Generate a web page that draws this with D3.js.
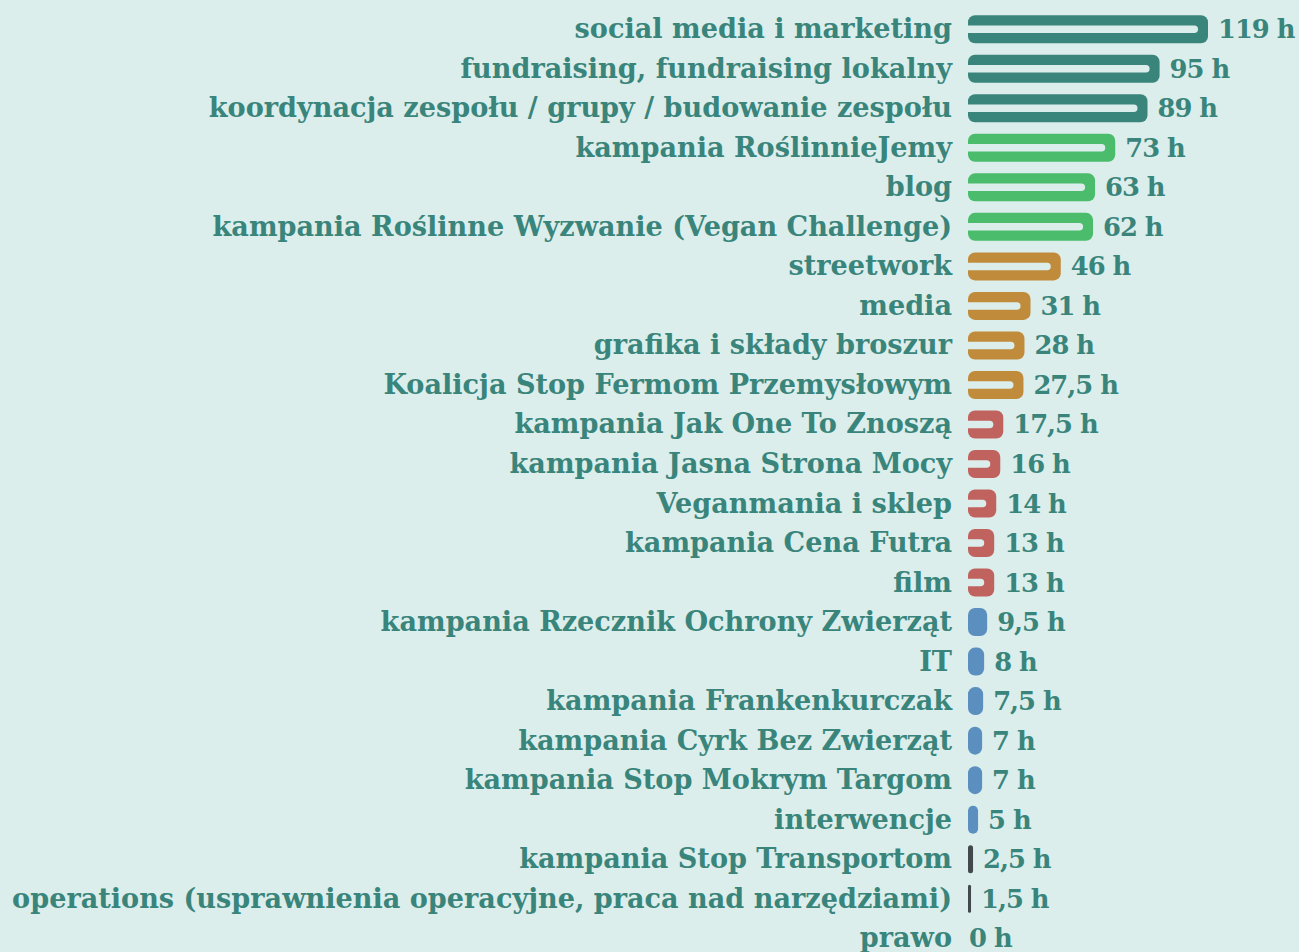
<!DOCTYPE html>
<html>
<head>
<meta charset="utf-8">
<script src="https://cdn.jsdelivr.net/npm/d3@7"></script>
<style>
  html, body { margin: 0; padding: 0; background: #dbeeec; }
  svg text { font-family: "DejaVu Serif", "Liberation Serif", serif; font-weight: bold; fill: #3a857b; }
</style>
</head>
<body>
<svg id="chart"></svg>
<script>
// categories, top to bottom
var categories = [
  'social media i marketing',
  'fundraising, fundraising lokalny',
  'koordynacja zespołu / grupy / budowanie zespołu',
  'kampania RoślinnieJemy',
  'blog',
  'kampania Roślinne Wyzwanie (Vegan Challenge)',
  'streetwork',
  'media',
  'grafika i składy broszur',
  'Koalicja Stop Fermom Przemysłowym',
  'kampania Jak One To Znoszą',
  'kampania Jasna Strona Mocy',
  'Veganmania i sklep',
  'kampania Cena Futra',
  'film',
  'kampania Rzecznik Ochrony Zwierząt',
  'IT',
  'kampania Frankenkurczak',
  'kampania Cyrk Bez Zwierząt',
  'kampania Stop Mokrym Targom',
  'interwencje',
  'kampania Stop Transportom',
  'operations (usprawnienia operacyjne, praca nad narzędziami)',
  'prawo'
]

// hours per category
var hours = [119, 95, 89, 73, 63, 62, 46, 31, 28, 27.5, 17.5, 16, 14, 13, 13, 9.5, 8, 7.5, 7, 7, 5, 2.5, 1.5, 0]

// colour group of each bar
var groups = ['a', 'a', 'a', 'b', 'b', 'b', 'c', 'c', 'c', 'c', 'd', 'd', 'd', 'd', 'd',
  'e', 'e', 'e', 'e', 'e', 'e', 'f', 'f', 'f']

var data = categories.map(function (c, i) {
  return { name: c, value: hours[i], group: groups[i] }
})

var width = 1299
var height = 952
var barLeft = 968
var barH = 28

var svg = d3.select('#chart')
  .attr('width', width)
  .attr('height', height)

var color = d3.scaleOrdinal()
  .domain(['a', 'b', 'c', 'd', 'e', 'f'])
  .range(['#3a857b', '#4bbc6c', '#c18b3c', '#c0635f', '#5b8fbf', '#41494d'])

var x = d3.scaleLinear()
  .domain([0, 119])
  .range([barLeft, 1208])

var y = d3.scaleBand()
  .domain(categories)
  .range([9.5, 958])

var fmt = function (v) { return String(v).replace('.', ',') + ' h' }

var row = svg.selectAll('g.row')
  .data(data)
  .enter().append('g')
    .attr('class', 'row')
    .attr('transform', function (d) { return 'translate(0,' + (y(d.name) + y.bandwidth() / 2) + ')' })

// bars
row.filter(function (d) { return d.value > 0 })
  .append('rect')
    .attr('x', barLeft)
    .attr('y', -barH / 2)
    .attr('width', function (d) { return x(d.value) - barLeft })
    .attr('height', barH)
    .attr('rx', function (d) { return Math.min(7, (x(d.value) - barLeft) / 2) })
    .attr('fill', function (d) { return color(d.group) })

// inner white stripe
row.filter(function (d) { return x(d.value) - barLeft > 22 })
  .append('path')
    .attr('d', function (d) {
      var end = x(d.value) - 10
      var r = 3.75
      return 'M' + barLeft + ',' + (-r) + 'H' + (end - r) +
        'A' + r + ',' + r + ' 0 0 1 ' + (end - r) + ',' + r +
        'H' + barLeft + 'Z'
    })
    .attr('fill', '#dbeeec')

// category labels
var labels = row.append('text')
  .attr('x', 952)
  .attr('y', 9)
  .attr('text-anchor', 'end')
  .style('font-size', '25px')
  .text(function (d) { return d.name })

// value labels
var values = row.append('text')
  .attr('x', function (d) { return d.value > 0 ? x(d.value) + 10 : barLeft + 1 })
  .attr('y', 9)
  .style('letter-spacing', '-1px')
  .text(function (d) { return fmt(d.value) })

// fit the font so the longest label spans the same width as the reference
var longest = labels.filter(function (d, i) { return i === 22 }).node()
var w = longest.getComputedTextLength()
var fs = 25 * 940 / w
labels.style('font-size', fs + 'px')
values.style('font-size', (fs * 0.95) + 'px')
</script>
</body>
</html>
